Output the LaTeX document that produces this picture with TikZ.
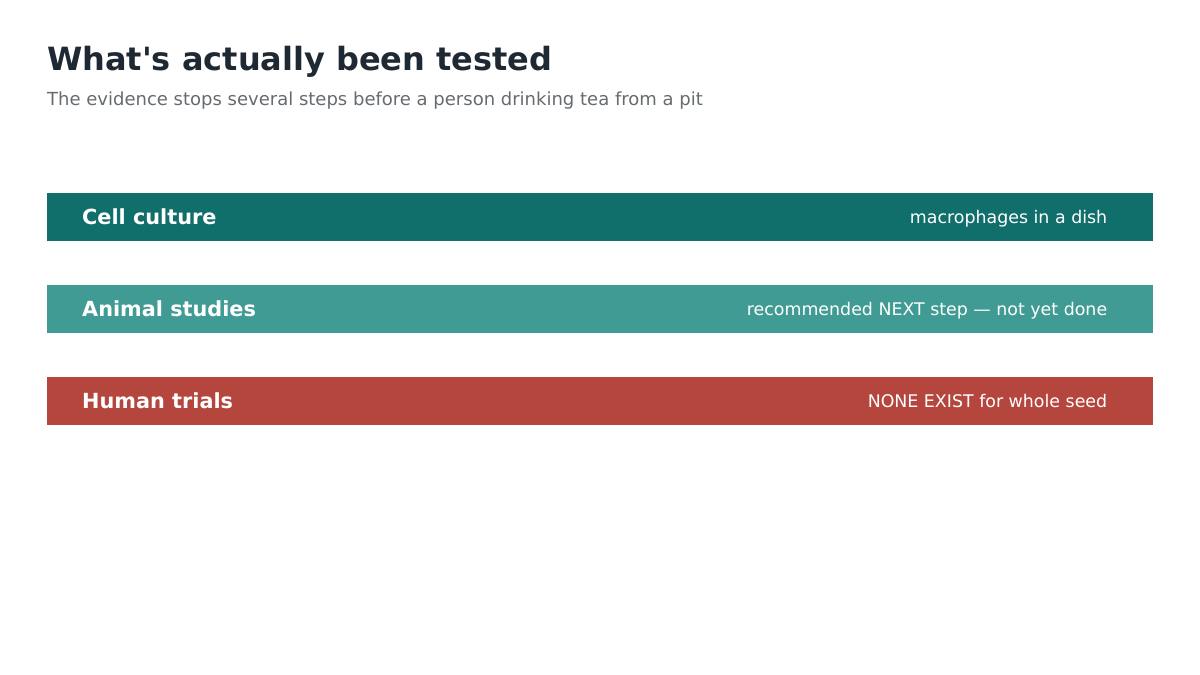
\documentclass[tikz,border=0pt]{standalone}
\usepackage{fontspec}
\setmainfont{DejaVu Sans}[Ligatures=TeXOff]
\definecolor{titlec}{HTML}{1F2933}
\definecolor{subc}{HTML}{666B70}
\definecolor{barA}{HTML}{106E6B}
\definecolor{barB}{HTML}{3F9B93}
\definecolor{barC}{HTML}{B5463E}
\begin{document}
\begin{tikzpicture}[x=1pt,y=-1pt,
  bar/.style={draw=none,minimum width=1106pt,minimum height=48pt,inner sep=0pt,anchor=north west},
  lefttxt/.style={text=white,font=\fontsize{20.8}{24}\selectfont\bfseries,anchor=base west,inner sep=0pt},
  righttxt/.style={text=white,font=\fontsize{17.4}{20}\selectfont,anchor=base east,inner sep=0pt}]
\useasboundingbox (0,0) rectangle (1200,675);
\node[anchor=base west,inner sep=0pt,text=titlec,font=\fontsize{32}{38}\selectfont\bfseries] (title) at (47,70.5) {What's actually been tested};
\node[anchor=base west,inner sep=0pt,text=subc,font=\fontsize{18}{22}\selectfont] (sub) at (47,105.5) {The evidence stops several steps before a person drinking tea from a pit};
\node[bar,fill=barA] (b1) at (47,193) {};
\node[bar,fill=barB] (b2) at (47,285) {};
\node[bar,fill=barC] (b3) at (47,377) {};
\node[lefttxt] (l1) at ([xshift=35pt,yshift=-7.5pt]b1.west) {Cell culture};
\node[lefttxt] (l2) at ([xshift=35pt,yshift=-7.5pt]b2.west) {Animal studies};
\node[lefttxt] (l3) at ([xshift=35pt,yshift=-7.5pt]b3.west) {Human trials};
\node[righttxt] (r1) at ([xshift=-46pt,yshift=-6.3pt]b1.east) {macrophages in a dish};
\node[righttxt] (r2) at ([xshift=-46pt,yshift=-6.3pt]b2.east) {recommended NEXT step — not yet done};
\node[righttxt] (r3) at ([xshift=-46pt,yshift=-6.3pt]b3.east) {NONE EXIST for whole seed};
\end{tikzpicture}
\end{document}
